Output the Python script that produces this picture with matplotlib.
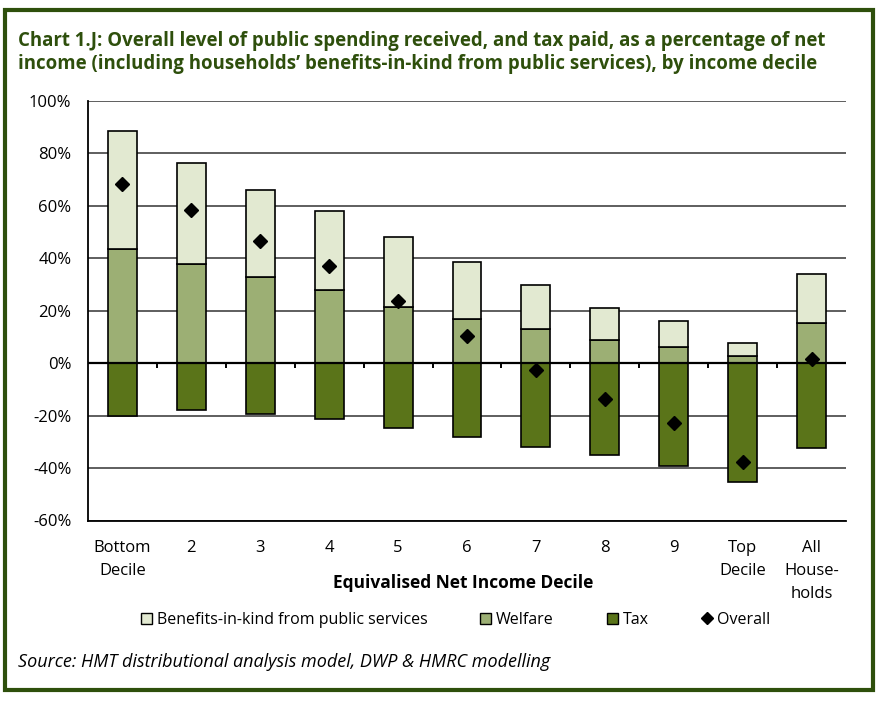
import numpy as np
import matplotlib
matplotlib.use("Agg")
import matplotlib.pyplot as plt
from matplotlib.patches import Rectangle
from matplotlib.lines import Line2D
from matplotlib.ticker import FuncFormatter

# values (% of net income)
categories = ["Bottom\nDecile", "2", "3", "4", "5", "6", "7", "8", "9", "Top\nDecile", "All\nHouse-\nholds"]
welfare = [43.5, 37.8, 32.8, 27.9, 21.4, 16.8, 12.9, 8.9, 6.1, 2.8, 15.4]
benefits_in_kind = [45.0, 38.5, 33.2, 30.1, 26.6, 21.9, 16.9, 12.3, 10.0, 4.9, 18.6]
tax = [-20.2, -18.0, -19.5, -21.3, -24.9, -28.3, -32.1, -34.9, -39.2, -45.2, -32.5]
overall = [68.3, 58.4, 46.6, 37.0, 23.7, 10.4, -2.6, -13.8, -22.9, -37.5, 1.6]

col_bik = "#e2e9d1"
col_welfare = "#9caf74"
col_tax = "#5a7419"
green_dark = "#2e4f0c"

fig = plt.figure(figsize=(8.88, 7.01), dpi=100)
ax = fig.add_axes([88/888, 1-520.5/701, 758/888, 419.5/701])

x = np.arange(len(categories))
w = 0.42
ax.bar(x, welfare, w, color=col_welfare, edgecolor="black", linewidth=1.2, zorder=3)
ax.bar(x, benefits_in_kind, w, bottom=welfare, color=col_bik, edgecolor="black", linewidth=1.2, zorder=3)
ax.bar(x, tax, w, color=col_tax, edgecolor="black", linewidth=1.2, zorder=3)
ax.plot(x, overall, "D", color="black", markersize=7, zorder=5)

ax.set_xlim(-0.5, len(categories)-0.5)
ax.set_ylim(-60, 100)
ax.set_yticks(np.arange(-60, 101, 20))
ax.yaxis.set_major_formatter(FuncFormatter(lambda v, p: "%d%%" % v))
ax.yaxis.grid(True, color="#333333", linewidth=1.1, zorder=0)
ax.axhline(0, color="black", linewidth=1.6, zorder=4)
# category ticks hanging under the zero line
ax.vlines(x[:-1] + 0.5, -1.8, 0, color="black", linewidth=1.4, zorder=4)

ax.set_xticks(x)
ax.set_xticklabels(categories, fontsize=12, family="Open Sans", linespacing=1.6)
ax.tick_params(axis="x", length=0, pad=14)
ax.tick_params(axis="y", length=0, pad=12, labelsize=12)
for t in ax.get_yticklabels():
    t.set_family("Open Sans")
for s in ["top", "right"]:
    ax.spines[s].set_visible(False)
ax.spines["left"].set_linewidth(1.3)
ax.spines["bottom"].set_linewidth(1.3)

ax.set_xlabel("Equivalised Net Income Decile", fontsize=12.5, fontweight="bold", family="Open Sans")
ax.xaxis.set_label_coords(0.495, -0.127)

handles = [
    Rectangle((0, 0), 1, 1, facecolor=col_bik, edgecolor="black", linewidth=1),
    Rectangle((0, 0), 1, 1, facecolor=col_welfare, edgecolor="black", linewidth=1),
    Rectangle((0, 0), 1, 1, facecolor=col_tax, edgecolor="black", linewidth=1),
    Line2D([], [], marker="D", color="black", linestyle="none", markersize=6),
]
labels = ["Benefits-in-kind from public services", "Welfare", "Tax", "Overall"]
fig.legend(handles, labels, loc="center", bbox_to_anchor=(0.513, 1-620/701), ncol=4,
           frameon=False, handlelength=0.7, handleheight=0.7, handletextpad=0.3,
           columnspacing=3.3, prop={"family": "Open Sans", "size": 11.5})

fig.text(18/888, 1-41/701, "Chart 1.J: Overall level of public spending received, and tax paid, as a percentage of net",
         fontsize=13.4, fontweight="bold", color=green_dark, family="Open Sans", va="center")
fig.text(18/888, 1-64/701, "income (including households\u2019 benefits-in-kind from public services), by income decile",
         fontsize=13.4, fontweight="bold", color=green_dark, family="Open Sans", va="center")
fig.text(18/888, 1-662/701, "Source: HMT distributional analysis model, DWP & HMRC modelling",
         fontsize=13, style="italic", family="Open Sans", va="center")

frame = Rectangle((5/888, 1-690/701), 868/888, 680/701, transform=fig.transFigure,
                  fill=False, edgecolor=green_dark, linewidth=3)
fig.patches.append(frame)

fig.savefig("out.png", dpi=100)
